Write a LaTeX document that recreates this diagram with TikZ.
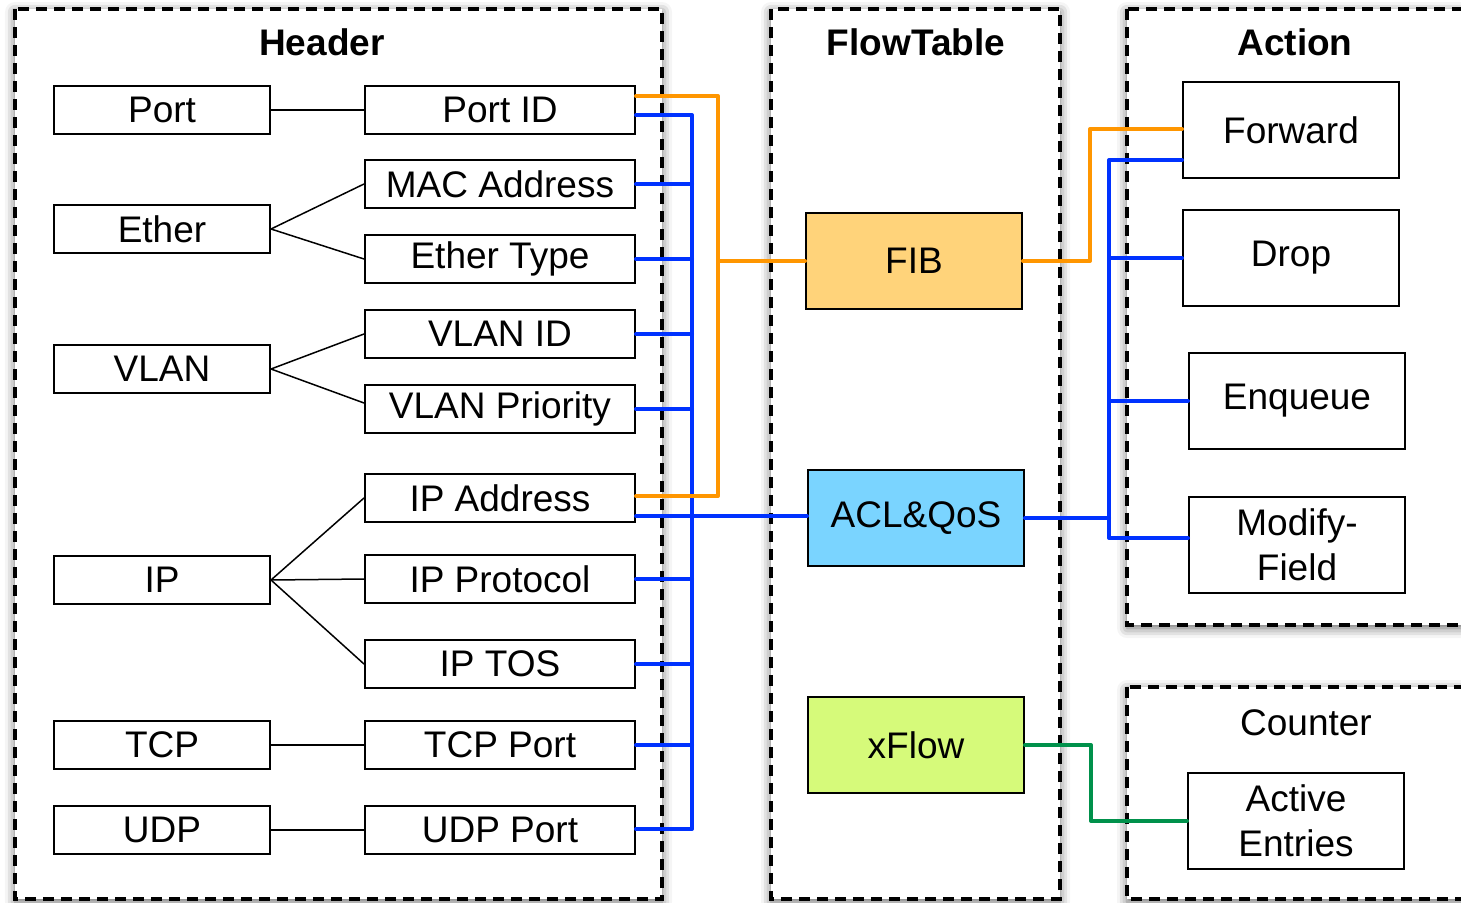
\documentclass[tikz,border=0pt]{standalone}
\usepackage{fontspec}
\setmainfont{Liberation Sans}
\usetikzlibrary{calc,shadows.blur}
\definecolor{wireorange}{RGB}{255,150,0}
\definecolor{wireblue}{RGB}{0,50,255}
\definecolor{wiregreen}{RGB}{0,145,75}
\definecolor{fibfill}{RGB}{255,211,122}
\definecolor{aclfill}{RGB}{122,212,255}
\definecolor{xflowfill}{RGB}{214,250,122}
\tikzset{
  x=1pt, y=-1pt,
  every node/.style={font=\fontsize{37}{45}\selectfont},
  group/.style={draw=black, line width=3.3pt, dash pattern=on 11pt off 7pt, fill=white,
    blur shadow={shadow xshift=0pt, shadow yshift=-3pt, shadow blur radius=10pt, shadow opacity=60}},
  grouptitle/.style={font=\fontsize{37}{45}\selectfont\bfseries, inner sep=0pt},
  field/.style={draw=black, line width=2pt, inner sep=0pt, minimum height=48pt},
  proto/.style={field, minimum width=216pt},
  hdr/.style={field, minimum width=270pt},
  table/.style={draw=black, line width=2pt, inner sep=0pt, minimum width=216pt, minimum height=96pt},
  act/.style={draw=black, line width=2pt, inner sep=0pt, minimum width=216pt, minimum height=96pt, align=center},
  tie/.style={black, line width=1.5pt},
  owire/.style={wireorange, line width=4pt, line cap=round, line join=round},
  bwire/.style={wireblue, line width=4pt, line cap=round, line join=round},
  gwire/.style={wiregreen, line width=4pt, line cap=round, line join=round},
}
\begin{document}
\begin{tikzpicture}
\useasboundingbox (0,0) rectangle (1461,902);
\clip (0,0) rectangle (1461,902);

% dashed groups
\draw[group] (15,9) rectangle (662,899);
\draw[group] (771,9) rectangle (1060,899);
\draw[group] (1127,9) rectangle (1480,625);
\draw[group] (1127,687) rectangle (1480,899);

\node[grouptitle] (thdr) at (322,42) {Header};
\node[grouptitle] (tflow) at (916,42) {FlowTable};
\node[grouptitle] (tact) at (1295,42) {Action};
\node[inner sep=0pt] (tcnt) at (1306,723) {Counter};

% protocol layers
\node[proto] (port)  at (162,110) {Port};
\node[proto] (ether) at (162,229) {Ether};
\node[proto] (vlan)  at (162,369) {VLAN};
\node[proto] (ip)    at (162,580) {IP};
\node[proto] (tcp)   at (162,745) {TCP};
\node[proto] (udp)   at (162,830) {UDP};

% header fields
\node[hdr] (portid)  at (500,110) {Port ID};
\node[hdr] (mac)     at (500,184) {MAC Address};
\node[hdr] (ethtype) at (500,259) {Ether Type};
\node[hdr] (vlanid)  at (500,334) {VLAN ID};
\node[hdr] (vlanpri) at (500,409) {VLAN Priority};
\node[hdr] (ipaddr)  at (500,498) {IP Address};
\node[hdr] (ipproto) at (500,579) {IP Protocol};
\node[hdr] (iptos)   at (500,664) {IP TOS};
\node[hdr] (tcpport) at (500,745) {TCP Port};
\node[hdr] (udpport) at (500,830) {UDP Port};

% layer-to-field ties
\draw[tie] (port.east) -- (portid.west);
\draw[tie] (ether.east) -- (mac.west);
\draw[tie] (ether.east) -- (ethtype.west);
\draw[tie] (vlan.east) -- (vlanid.west);
\draw[tie] (vlan.east) -- ($(vlanpri.west)+(0,-6)$);
\draw[tie] (ip.east) -- (ipaddr.west);
\draw[tie] (ip.east) -- (ipproto.west);
\draw[tie] (ip.east) -- (iptos.west);
\draw[tie] (tcp.east) -- (tcpport.west);
\draw[tie] (udp.east) -- (udpport.west);

% flow tables
\node[table, fill=fibfill]   (fib)   at (914,261) {FIB};
\node[table, fill=aclfill]   (acl)   at (916,518) {ACL\&QoS};
\node[table, fill=xflowfill] (xflow) at (916,745) {xFlow};

% actions and counters
\node[act] (fwd)     at (1291,130) {Forward};
\node[act] (drop)    at (1291,258) {Drop};
\node[act] (enq)     at (1297,401) {Enqueue};
\node[act] (modify)  at (1297,545) {Modify-\\Field};
\node[act] (active)  at (1296,821) {Active\\Entries};

% blue bus: every header field feeds ACL&QoS
\coordinate (bT) at (692,115);
\coordinate (bB) at (692,829);
\coordinate (bA) at (692,516);
\draw[bwire] (portid.east |- bT) -- (bT) -- (bB) -- (udpport.east |- bB);
\foreach \f in {mac,ethtype,vlanid,vlanpri,ipproto,iptos,tcpport}
  \draw[bwire] (\f.east) -- (\f.east -| bT);
\draw[bwire] (ipaddr.east |- bA) -- (acl.west |- bA);

% orange bus: port and IP address feed FIB
\coordinate (oT) at (718,96);
\coordinate (oB) at (718,496);
\draw[owire] (portid.east |- oT) -- (oT) -- (oB) -- (ipaddr.east |- oB);
\draw[owire] (oT |- fib.west) -- (fib.west);

% FIB -> Forward
\coordinate (oR) at (1090,129);
\draw[owire] (fib.east) -- (fib.east -| oR) -- (oR) -- (fwd.west |- oR);

% ACL&QoS -> all actions
\coordinate (bRT) at (1109,160);
\coordinate (bRB) at (1109,538);
\draw[bwire] (acl.east) -- (acl.east -| bRT);
\draw[bwire] (fwd.west |- bRT) -- (bRT) -- (bRB) -- (modify.west |- bRB);
\draw[bwire] (drop.west -| bRT) -- (drop.west);
\draw[bwire] (enq.west -| bRT) -- (enq.west);

% xFlow -> counters
\coordinate (gx) at (1091,0);
\draw[gwire] (xflow.east) -- (xflow.east -| gx) -- (gx |- active.west) -- (active.west);
\end{tikzpicture}
\end{document}
